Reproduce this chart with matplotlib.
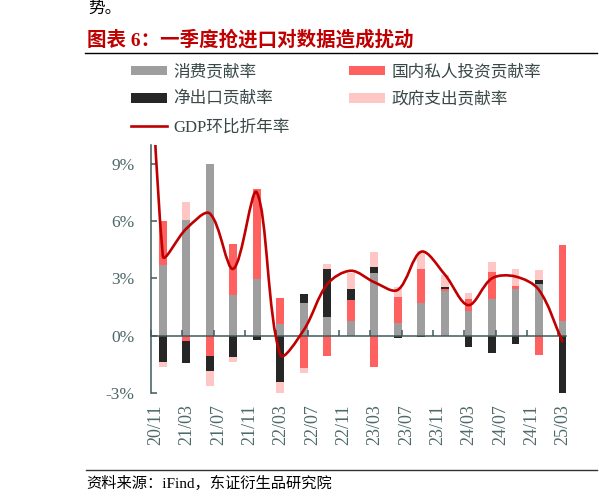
import numpy as np
import matplotlib
matplotlib.use('Agg')
import matplotlib.pyplot as plt
from matplotlib.path import Path
from matplotlib.patches import PathPatch, Patch
from matplotlib.lines import Line2D

# ---------------- data (percentage points) ----------------
quarters = ['2020Q4', '2021Q1', '2021Q2', '2021Q3', '2021Q4',
            '2022Q1', '2022Q2', '2022Q3', '2022Q4',
            '2023Q1', '2023Q2', '2023Q3', '2023Q4',
            '2024Q1', '2024Q2', '2024Q3', '2024Q4', '2025Q1']
consumption = [3.70, 6.06, 9.01, 2.11, 2.98, 0.61, 1.70, 0.99, 0.79,
               3.27, 0.65, 1.71, 2.34, 1.29, 1.91, 2.44, 2.69, 0.79]
private_inv = [2.32, -0.28, -1.05, 2.69, 4.68, 1.35, -1.67, -1.06, 1.08,
               -1.62, 1.39, 1.80, 0.10, 0.63, 1.44, 0.18, -1.03, 3.96]
net_exports = [-1.38, -1.17, -0.80, -1.13, -0.23, -2.41, 0.48, 2.50, 0.56,
               0.31, -0.10, -0.08, 0.11, -0.61, -0.91, -0.43, 0.24, -3.07]
government = [-0.28, 0.96, -0.77, -0.26, 0.0, -0.57, -0.27, 0.25, 0.87,
              0.82, 0.49, 0.92, 0.63, 0.33, 0.52, 0.86, 0.53, 0.0]

gdp_quarters = ['2020Q3'] + quarters
gdp = [35.0, 4.2, 5.6, 6.4, 3.5, 7.5, -1.0, 0.3, 2.7, 3.4,
       2.8, 2.4, 4.4, 3.2, 1.6, 3.0, 3.1, 2.4, -0.3]

tick_labels = ['20/11', '21/03', '21/07', '21/11', '22/03', '22/07', '22/11',
               '23/03', '23/07', '23/11', '24/03', '24/07', '24/11', '25/03']
yticks = [-3, 0, 3, 6, 9]

series_names = ['消费贡献率', '国内私人投资贡献率', '净出口贡献率', '政府支出贡献率']
gdp_name = 'GDP环比折年率'

# ---------------- helpers ----------------
def month_pos(q):
    """month slot index counted from Nov-2020, centred in its month slot"""
    y, n = int(q[:4]), int(q[-1])
    return (y - 2020) * 12 + n * 3 - 11 + 0.5

x = np.array([month_pos(q) for q in quarters])
gx = np.array([month_pos(q) for q in gdp_quarters])

C_CONS = '#9E9E9E'
C_PRIV = '#FF6161'
C_NETX = '#262626'
C_GOV = '#FFC6C6'
C_GDP = '#C00000'
C_AX = '#3F5A5A'
C_TXT = '#4E6868'
CJK = ['Liberation Serif', 'Noto Sans CJK SC', 'DejaVu Sans']

W, H = 599, 503
fig = plt.figure(figsize=(W / 100, H / 100), dpi=100)
ax = fig.add_axes([151 / W, 1 - 393 / H, 415.3 / W, 248.3 / H])

# ---------------- stacked bars ----------------
pos_base = np.zeros(len(x))
neg_base = np.zeros(len(x))
handles = []
for vals, col, name in zip([consumption, private_inv, net_exports, government],
                           [C_CONS, C_PRIV, C_NETX, C_GOV], series_names):
    v = np.array(vals, dtype=float)
    bottom = np.where(v >= 0, pos_base, neg_base)
    ax.bar(x, v, bottom=bottom, width=0.98, color=col, edgecolor='none',
           zorder=1)
    pos_base += np.clip(v, 0, None)
    neg_base += np.clip(v, None, 0)
    handles.append(Patch(facecolor=col, edgecolor='none', label=name))

ax.set_xlim(0, 53)
ax.set_ylim(-3, 10)

# ---------------- smoothed GDP line (Bezier through data points) ----------------
D = ax.transData.transform(np.column_stack([gx, gdp]))
n = len(D)


def tangent(i):
    if i == 0:
        d = D[1] - D[0]
        return d / np.linalg.norm(d)
    if i == n - 1:
        d = D[-1] - D[-2]
        return d / np.linalg.norm(d)
    dp = np.linalg.norm(D[i] - D[i - 1])
    dn = np.linalg.norm(D[i + 1] - D[i])
    return (D[i + 1] - D[i - 1]) / (dp + dn)


s = 1 / 3
verts = [D[0]]
codes = [Path.MOVETO]
for i in range(n - 1):
    d = np.linalg.norm(D[i + 1] - D[i])
    verts += [D[i] + tangent(i) * d * s, D[i + 1] - tangent(i + 1) * d * s, D[i + 1]]
    codes += [Path.CURVE4] * 3
verts = ax.transData.inverted().transform(np.array(verts))
ax.add_patch(PathPatch(Path(verts, codes), facecolor='none', edgecolor=C_GDP,
                       lw=1.9, capstyle='round', joinstyle='round', zorder=3))
ax.set_xlim(0, 53)
ax.set_ylim(-3, 10)
gdp_handle = Line2D([], [], color=C_GDP, lw=1.9, label=gdp_name)

# ---------------- axes styling ----------------
for sp in ['top', 'right']:
    ax.spines[sp].set_visible(False)
ax.spines['bottom'].set_position(('data', 0))
for sp in ['left', 'bottom']:
    ax.spines[sp].set_color(C_AX)
    ax.spines[sp].set_linewidth(1.1)

ax.set_xticks(np.arange(0, 53, 4))
ax.tick_params(axis='x', direction='in', length=4, width=1.1, color=C_AX,
               labelbottom=False)
ax.set_yticks(yticks)
ax.set_yticklabels([f'{v}%' for v in yticks])
ax.tick_params(axis='y', direction='in', length=4, width=1.1, color=C_AX,
               pad=12, labelsize=12.5, labelcolor=C_TXT)
for lab in ax.get_yticklabels():
    lab.set_family('Liberation Serif')

sec = ax.secondary_xaxis('bottom')
sec.set_xticks(np.arange(0, 53, 4) + 0.6)
sec.set_xticklabels(tick_labels, rotation=90, fontsize=13,
                    family='Liberation Serif', color=C_TXT)
sec.tick_params(length=0, pad=8)
sec.spines['bottom'].set_visible(False)

# ---------------- legend ----------------
leg_handles = [handles[0], handles[2], gdp_handle, handles[1], handles[3]]
fig.legend(handles=leg_handles, labels=[h.get_label() for h in leg_handles],
           ncol=2, loc='upper left', bbox_to_anchor=(131 / W, 1 - 64.5 / H),
           frameon=False, borderpad=0, borderaxespad=0,
           handlelength=2.16, handleheight=0.48, handletextpad=0.36,
           columnspacing=3.6, labelspacing=0.68,
           prop={'family': CJK, 'size': 12}, labelcolor='#3A4848')

# ---------------- page decorations ----------------
fig.text(88 / W, 1 - 9 / H, '势。', fontsize=12, family=CJK, color='black',
         va='center', ha='left')
fig.text(87 / W, 1 - 39.5 / H, '图表 6：一季度抢进口对数据造成扰动', fontsize=14,
         fontweight='bold', family=CJK, color='#C00000', va='center', ha='left')
fig.add_artist(Line2D([85 / W, 597 / W], [1 - 53.3 / H] * 2, color='black',
                      lw=1.0, transform=fig.transFigure))
fig.add_artist(Line2D([86 / W, 597 / W], [1 - 470 / H] * 2, color='#333333',
                      lw=1.0, transform=fig.transFigure))
fig.text(86.7 / W, 1 - 483.5 / H, '资料来源：iFind，东证衍生品研究院', fontsize=11,
         family=CJK, color='black', va='center', ha='left')

fig.savefig('out.png', dpi=100)
